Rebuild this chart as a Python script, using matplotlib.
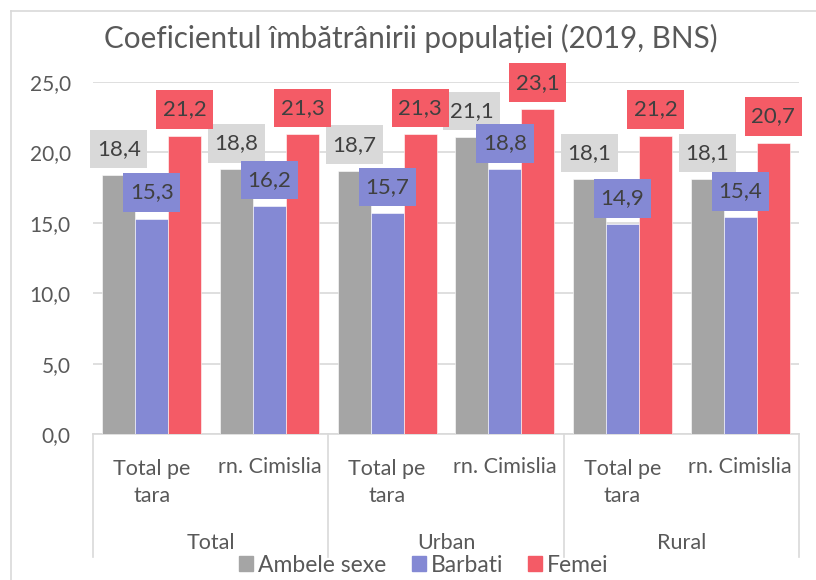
import matplotlib
matplotlib.use('Agg')
import matplotlib.pyplot as plt
from matplotlib.lines import Line2D
from matplotlib.patches import Patch
from matplotlib.path import Path
import numpy as np

plt.rcParams['font.family'] = ['Lato', 'DejaVu Sans']

# data
groups = ['Total', 'Urban', 'Rural']
subcats = ['Total pe\ntara', 'rn. Cimislia']
series_names = ['Ambele sexe', 'Barbati', 'Femei']
ambele = [18.4, 18.8, 18.7, 21.1, 18.1, 18.1]
barbati = [15.3, 16.2, 15.7, 18.8, 14.9, 15.4]
femei = [21.2, 21.3, 21.3, 23.1, 21.2, 20.7]

bar_colors = ['#A5A5A5', '#8489D4', '#F45B66']
box_colors = ['#D9D9D9', '#8489D4', '#F45B66']
txt = '#404040'
axc = '#595959'
grid = '#D9D9D9'

def fmt(v):
    return '{:.1f}'.format(v).replace('.', ',')

def label_box(x0, y0, width, height, mutation_size):
    # taller than wide padding, like the excel data label boxes
    padx = 0.3 * mutation_size
    pady = 0.42 * mutation_size
    x0, y0 = x0 - padx, y0 - pady
    x1, y1 = x0 + width + 2 * padx, y0 + height + 2 * pady
    return Path([(x0, y0), (x1, y0), (x1, y1), (x0, y1), (x0, y0)], closed=True)

fig = plt.figure(figsize=(8.16, 5.8), dpi=100)
ax = fig.add_axes([93/816, 1-434/580, (799-93)/816, (434-82)/580])

# outer frame of the chart (only left and top visible)
fig.add_artist(Line2D([11/816, 11/816], [0, 1-11/580], transform=fig.transFigure, color=grid, lw=1.2))
fig.add_artist(Line2D([11/816, 1], [1-11/580, 1-11/580], transform=fig.transFigure, color=grid, lw=1.2))

n = len(ambele)
x = np.arange(n)
w = 0.28
all_series = [ambele, barbati, femei]
for i, vals in enumerate(all_series):
    xs = x + (i - 1) * w
    ax.bar(xs, vals, w, color=bar_colors[i], zorder=3, label=series_names[i],
           edgecolor='white', linewidth=0.4)
    for xi, v in zip(xs, vals):
        ax.annotate(fmt(v), (xi, v), xytext=(0, 26), textcoords='offset pixels',
                    ha='center', va='center', fontsize=16, color=txt, zorder=5,
                    bbox=dict(boxstyle=label_box, fc=box_colors[i], ec='none'))

ax.set_xlim(-0.5, n - 0.5)
ax.set_ylim(0, 25)
ax.set_yticks(np.arange(0, 26, 5))
ax.set_yticklabels([fmt(v) for v in np.arange(0, 26, 5)])
ax.yaxis.grid(True, color=grid, lw=1.2, zorder=0)
ax.set_axisbelow(True)
for s in ['top', 'right', 'left']:
    ax.spines[s].set_visible(False)
ax.spines['bottom'].set_color(grid)
ax.spines['bottom'].set_linewidth(1.2)
ax.tick_params(axis='y', length=0, pad=16, labelsize=15, labelcolor=axc)
ax.set_xticks([])

# multi level category axis
tr = ax.get_xaxis_transform()
for k in range(n):
    label = subcats[k % 2]
    if '\n' in label:
        ax.text(k, -0.137, label, transform=tr, ha='center', va='center',
                fontsize=15.5, color=axc, linespacing=1.45)
    else:
        ax.text(k, -0.094, label, transform=tr, ha='center', va='center',
                fontsize=15.5, color=axc)
for g, name in enumerate(groups):
    ax.text(2 * g + 0.5, -0.31, name, transform=tr, ha='center', va='center',
            fontsize=15.5, color=axc)
for b in np.arange(-0.5, n, 2):
    ax.add_line(Line2D([b, b], [0, -0.35], transform=tr, color=grid, lw=1.2, clip_on=False))

fig.text(411/816, 1-38/580, 'Coeficientul îmbătrânirii populației (2019, BNS)',
         ha='center', va='center', fontsize=21.3, color=axc)

handles = [Patch(color=c) for c in bar_colors]
fig.legend(handles, series_names, loc='center', bbox_to_anchor=(424/816, 1-565/580),
           ncol=3, frameon=False, fontsize=16.5, labelcolor=axc, handlelength=0.61,
           handleheight=0.61, handletextpad=0.22, columnspacing=1.09, borderpad=0)

fig.savefig('out.png', dpi=100)
